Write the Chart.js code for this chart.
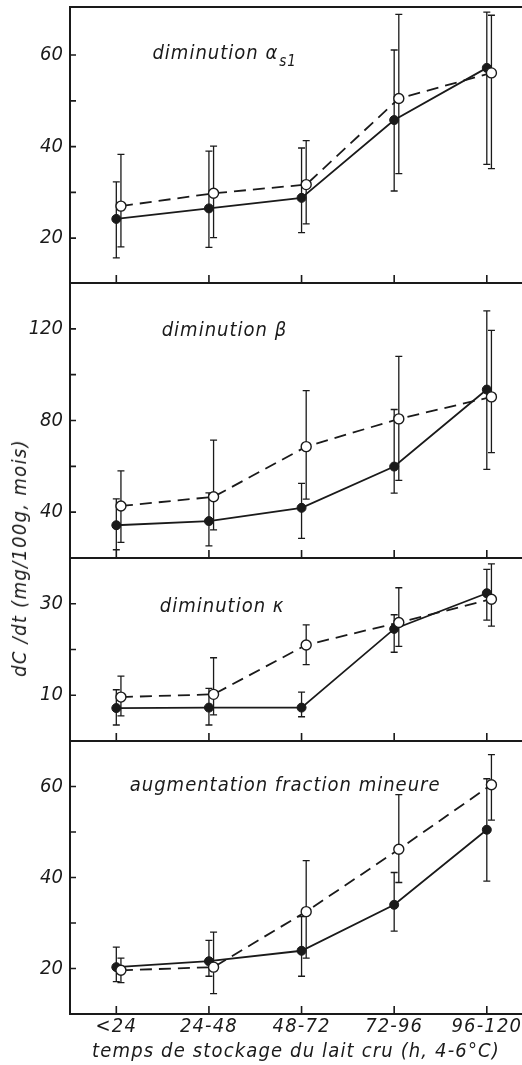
<!DOCTYPE html>
<html><head><meta charset="utf-8">
<script src="https://cdn.jsdelivr.net/npm/chart.js@4.4.1/dist/chart.umd.min.js"></script>
<style>
html,body{margin:0;padding:0;background:#fff;width:522px;height:1065px;overflow:hidden;}
canvas{position:absolute;left:0;}
#ytitle{position:absolute;left:19px;top:558px;transform:translate(-50%,-50%) rotate(-90deg);
 font-family:'DejaVu Sans Condensed','DejaVu Sans',sans-serif;font-style:italic;font-size:20px;color:#1a1a1a;white-space:nowrap;letter-spacing:1.3px;}
</style></head><body>
<canvas id="c1"></canvas><canvas id="c2"></canvas><canvas id="c3"></canvas><canvas id="c4"></canvas>
<div id="ytitle">dC /dt (mg/100g, mois)</div>
<script>
// ---- data ----
const categories = ['<24', '24-48', '48-72', '72-96', '96-120'];
const xTitle = 'temps de stockage du lait cru (h, 4-6°C)';

const alphaFilled     = [24.2, 26.5, 28.8, 45.8, 57.2];
const alphaFilledLow  = [15.7, 18.0, 21.2, 30.3, 36.1];
const alphaFilledHigh = [32.3, 39.0, 39.7, 61.1, 69.4];
const alphaOpen       = [27.0, 29.8, 31.7, 50.5, 56.1];
const alphaOpenLow    = [18.1, 20.1, 23.1, 34.1, 35.2];
const alphaOpenHigh   = [38.3, 40.1, 41.3, 68.9, 68.7];
const alphaTickLabels = [20, 40, 60];

const betaFilled      = [34.3, 36.1, 41.9, 59.9, 93.5];
const betaFilledLow   = [23.6, 25.3, 28.6, 48.3, 58.7];
const betaFilledHigh  = [45.8, 48.4, 52.6, 84.8, 127.8];
const betaOpen        = [42.7, 46.7, 68.6, 80.7, 90.3];
const betaOpenLow     = [26.8, 32.3, 45.7, 53.9, 66.0];
const betaOpenHigh    = [58.0, 71.4, 93.0, 108.0, 119.3];
const betaTickLabels  = [40, 80, 120];

const kappaFilled     = [7.2, 7.3, 7.3, 24.5, 32.3];
const kappaFilledLow  = [3.5, 3.5, 5.3, 19.4, 26.4];
const kappaFilledHigh = [11.2, 11.5, 10.7, 27.6, 37.5];
const kappaOpen       = [9.6, 10.2, 21.0, 25.9, 31.0];
const kappaOpenLow    = [5.5, 5.7, 16.7, 20.7, 25.1];
const kappaOpenHigh   = [14.2, 18.2, 25.4, 33.5, 38.7];
const kappaTickLabels = [10, 30];

const minorFilled     = [20.3, 21.6, 23.9, 34.0, 50.5];
const minorFilledLow  = [17.1, 18.3, 18.3, 28.2, 39.2];
const minorFilledHigh = [24.7, 26.2, 31.4, 41.1, 61.7];
const minorOpen       = [19.6, 20.3, 32.5, 46.2, 60.4];
const minorOpenLow    = [16.9, 14.5, 22.3, 38.9, 52.6];
const minorOpenHigh   = [22.3, 28.0, 43.7, 58.2, 67.0];
const minorTickLabels = [20, 40, 60];

// ---- style / layout ----
const INK = '#1a1a1a';
const FONT = "'DejaVu Sans Condensed','DejaVu Sans',sans-serif";
const OPEN_OFFSET = 0.05;

const errorBars = {
  id: 'errorBars',
  beforeDatasetsDraw(chart) {
    const ctx = chart.ctx, xs = chart.scales.x, ys = chart.scales.y;
    ctx.save();
    ctx.strokeStyle = INK; ctx.lineWidth = 1.3; ctx.setLineDash([]);
    chart.data.datasets.forEach(ds => {
      ds.data.forEach((p, i) => {
        const x = xs.getPixelForValue(p.x);
        const y1 = ys.getPixelForValue(ds.errLow[i]);
        const y2 = ys.getPixelForValue(ds.errHigh[i]);
        ctx.beginPath();
        ctx.moveTo(x, y1); ctx.lineTo(x, y2);
        ctx.moveTo(x - 3.5, y1); ctx.lineTo(x + 3.5, y1);
        ctx.moveTo(x - 3.5, y2); ctx.lineTo(x + 3.5, y2);
        ctx.stroke();
      });
    });
    ctx.restore();
  }
};

// letter spacing for the x-axis texts only (x scale layers drawn after datasets)
const spacing = {
  id: 'spacing',
  beforeDraw(chart) { try { chart.ctx.letterSpacing = '0px'; } catch (e) {} },
  afterDatasetsDraw(chart, args, opts) { try { chart.ctx.letterSpacing = opts.value || '0px'; } catch (e) {} }
};

const decorations = {
  id: 'decorations',
  afterDraw(chart, args, opts) {
    const ctx = chart.ctx, a = chart.chartArea, xs = chart.scales.x, ys = chart.scales.y;
    ctx.save();
    ctx.strokeStyle = INK; ctx.lineWidth = 1.6;
    ctx.beginPath();
    ys.ticks.forEach(t => {
      const y = ys.getPixelForValue(t.value);
      if (y < a.top + 3 || y > a.bottom - 3) return;
      ctx.moveTo(a.left, y); ctx.lineTo(a.left + 6, y);
    });
    xs.ticks.forEach(t => {
      const x = xs.getPixelForValue(t.value);
      ctx.moveTo(x, a.bottom); ctx.lineTo(x, a.bottom - 8);
    });
    ctx.stroke();
    if (opts.topBorder) {
      ctx.lineWidth = 2;
      ctx.beginPath(); ctx.moveTo(a.left - 1, a.top); ctx.lineTo(a.right, a.top); ctx.stroke();
    }
    if (opts.text) {
      const x = xs.getPixelForValue(opts.xVal), y = ys.getPixelForValue(opts.yVal);
      ctx.fillStyle = INK;
      ctx.font = 'italic 20px ' + FONT;
      ctx.textBaseline = 'alphabetic'; ctx.textAlign = 'left';
      try { ctx.letterSpacing = '1px'; } catch (e) {}
      ctx.fillText(opts.text, x, y);
      if (opts.sub) {
        const w = ctx.measureText(opts.text).width;
        ctx.font = 'italic 15px ' + FONT;
        ctx.fillText(opts.sub, x + w + 1, y + 7);
      }
    }
    ctx.restore();
  }
};

function zeroPad(s) { s.paddingTop = 0; s.paddingBottom = 0; s.paddingLeft = 0; s.paddingRight = 0; }

function makeChart(id, top, areaH, cfg) {
  const last = !!cfg.last;
  const cv = document.getElementById(id);
  const h = last ? areaH + 7 + 51 : areaH + 14;
  cv.width = 522; cv.height = h; cv.style.top = top - 7 + 'px';
  const ds = (vals, lo, hi, open) => ({
    data: vals.map((v, i) => ({ x: i + (open ? OPEN_OFFSET : 0), y: v })),
    errLow: lo, errHigh: hi,
    borderColor: INK, borderWidth: 1.8, borderDash: open ? [12, 7] : [],
    pointRadius: open ? 5 : 4.5, pointBorderWidth: open ? 1.4 : 1,
    pointBackgroundColor: open ? '#fff' : INK, pointBorderColor: INK,
    tension: 0, order: open ? 0 : 1
  });
  return new Chart(cv, {
    type: 'line',
    data: { datasets: [ds(cfg.filled, cfg.fLow, cfg.fHigh, false), ds(cfg.open, cfg.oLow, cfg.oHigh, true)] },
    options: {
      responsive: false, animation: false, devicePixelRatio: 1,
      layout: { autoPadding: false, padding: { left: 0, right: 0, top: 7, bottom: last ? 0 : 7 } },
      plugins: { legend: { display: false }, tooltip: { enabled: false },
        spacing: { value: last ? '1.15px' : '0px' },
        decorations: { topBorder: !!cfg.topBorder, text: cfg.title, sub: cfg.sub, xVal: cfg.tx, yVal: cfg.ty } },
      scales: {
        x: {
          type: 'linear', min: -0.5, max: 4.38,
          afterBuildTicks: s => { s.ticks = categories.map((c, i) => ({ value: i })); },
          afterFit: s => { s.height = last ? 51 : 0; zeroPad(s); },
          grid: { display: false, drawTicks: false, z: 1 },
          border: { display: true, color: INK, width: 2, z: 1 },
          ticks: { display: last, padding: 1, color: INK, autoSkip: false, maxRotation: 0, z: 1,
            font: { family: FONT, style: 'italic', size: 20 },
            callback: v => categories[v] },
          title: { display: last, text: xTitle, color: INK, padding: { top: 0, bottom: 1 },
            font: { family: FONT, style: 'italic', size: 20 } }
        },
        y: {
          min: cfg.min, max: cfg.max,
          afterFit: s => { s.width = 70; zeroPad(s); },
          grid: { display: false, drawTicks: false },
          border: { display: true, color: INK, width: 2 },
          ticks: { stepSize: cfg.step, padding: 7, color: INK,
            font: { family: FONT, style: 'italic', size: 20 },
            callback: v => cfg.labels.includes(v) ? String(v) : '' }
        }
      }
    },
    plugins: [spacing, errorBars, decorations]
  });
}

makeChart('c1', 7, 276, { filled: alphaFilled, fLow: alphaFilledLow, fHigh: alphaFilledHigh,
  open: alphaOpen, oLow: alphaOpenLow, oHigh: alphaOpenHigh, labels: alphaTickLabels,
  min: 10.2, max: 70.5, step: 10, topBorder: true, title: 'diminution α', sub: 's1', tx: 0.39, ty: 59.1 });
makeChart('c2', 283, 275, { filled: betaFilled, fLow: betaFilledLow, fHigh: betaFilledHigh,
  open: betaOpen, oLow: betaOpenLow, oHigh: betaOpenHigh, labels: betaTickLabels,
  min: 20, max: 140, step: 20, title: 'diminution β', tx: 0.49, ty: 116.7 });
makeChart('c3', 558, 183, { filled: kappaFilled, fLow: kappaFilledLow, fHigh: kappaFilledHigh,
  open: kappaOpen, oLow: kappaOpenLow, oHigh: kappaOpenHigh, labels: kappaTickLabels,
  min: 0, max: 40, step: 10, title: 'diminution κ', tx: 0.47, ty: 28.3 });
makeChart('c4', 741, 273, { filled: minorFilled, fLow: minorFilledLow, fHigh: minorFilledHigh,
  open: minorOpen, oLow: minorOpenLow, oHigh: minorOpenHigh, labels: minorTickLabels,
  min: 10, max: 70, step: 10, last: true, title: 'augmentation fraction mineure', tx: 0.145, ty: 59.1 });
</script>
</body></html>
